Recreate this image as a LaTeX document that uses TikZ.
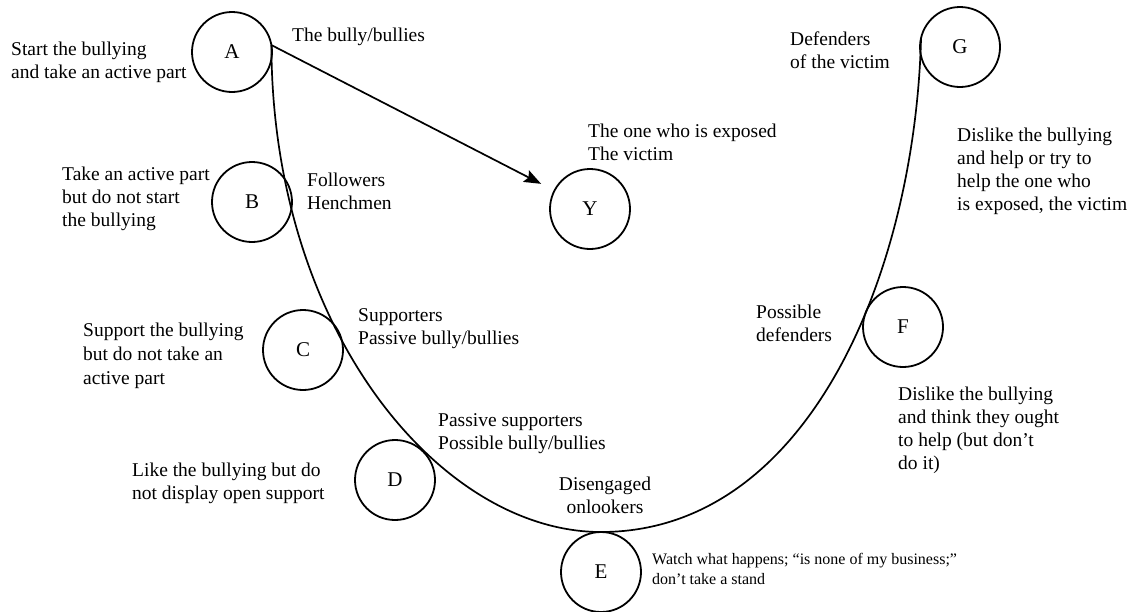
\documentclass[tikz,border=0pt]{standalone}
\usepackage{fontspec}
\setmainfont{Liberation Serif}
\usetikzlibrary{arrows.meta}

\begin{document}
\begin{tikzpicture}[x=1pt,y=-1pt,
  role/.style={draw,circle,line width=1.8pt,minimum size=80pt,inner sep=0pt,outer sep=0pt,
               font=\fontsize{21}{24}\selectfont},
  txt/.style={anchor=north west,align=left,inner sep=0pt,font=\fontsize{19.5}{23}\selectfont}]
  \useasboundingbox (0,0) rectangle (1139,611);
  % the roles round the U
  \node[role] (A) at (232,52) {A};
  \node[role] (B) at (252,202) {B};
  \node[role] (C) at (303,350) {C};
  \node[role] (D) at (395,480) {D};
  \node[role] (E) at (601,572) {E};
  \node[role] (F) at (903,327) {F};
  \node[role] (G) at (960,47) {G};
  \node[role] (Y) at (590,209) {Y};
  \draw[line width=1.7pt] (A.10) .. controls (272,330) and (440,532) .. (E.north)
     .. controls (810,532) and (915,270) .. (G.167);
  \draw[line width=1.7pt,-{Stealth[length=17pt,width=13pt,inset=3pt]},shorten >=15pt] (A.10) -- (Y);
  % what they do / what they are called
  \node[txt] (tA) at (11,42) {Start the bullying\\and take an active part};
  \node[txt] (nA) at (292,28) {The bully/bullies};
  \node[txt] (tB) at (62,167) {Take an active part\\but do not start\\the bullying};
  \node[txt] (nB) at (307,173) {Followers\\Henchmen};
  \node[txt] (nY) at (588,124) {The one who is exposed\\The victim};
  \node[txt] (nG) at (790,32) {Defenders\\of the victim};
  \node[txt] (tG) at (957,128) {Dislike the bullying\\and help or try to\\help the one who\\is exposed, the victim};
  \node[txt,font=\fontsize{19.5}{24}\selectfont] (tC) at (83,323) {Support the bullying\\but do not take an\\active part};
  \node[txt] (nC) at (358,308) {Supporters\\Passive bully/bullies};
  \node[txt] (nF) at (756,305) {Possible\\defenders};
  \node[txt] (tF) at (898,387) {Dislike the bullying\\and think they ought\\to help (but don't\\do it)};
  \node[txt] (nD) at (438,413) {Passive supporters\\Possible bully/bullies};
  \node[txt] (tD) at (132,463) {Like the bullying but do\\not display open support};
  \node[txt,anchor=north,align=center] (nE) at (605,477) {Disengaged\\onlookers};
  \node[txt,font=\fontsize{16}{20}\selectfont] (tE) at (652,553) {Watch what happens; ``is none of my business;''\\don't take a stand};
\end{tikzpicture}
\end{document}
